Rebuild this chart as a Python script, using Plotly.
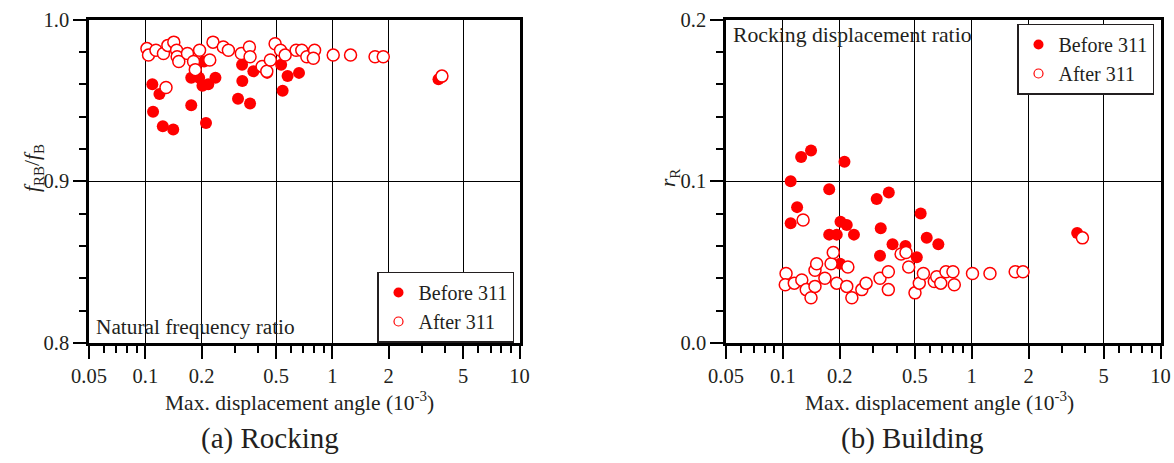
import math
import plotly.graph_objects as go

# ---------------- data ----------------
# (a) Rocking: natural frequency ratio f_RB/f_B
rock_before_x = [0.109, 0.119, 0.110, 0.124, 0.141, 0.176, 0.176, 0.194, 0.202, 0.217,
                 0.237, 0.211, 0.206, 0.329, 0.330, 0.313, 0.363, 0.378, 0.448, 0.532,
                 0.576, 0.542, 0.663, 3.69]
rock_before_y = [0.960, 0.954, 0.943, 0.934, 0.932, 0.964, 0.947, 0.964, 0.959, 0.960,
                 0.964, 0.936, 0.974, 0.972, 0.962, 0.951, 0.948, 0.968, 0.967, 0.972,
                 0.965, 0.956, 0.967, 0.963]
rock_after_x = [0.102, 0.104, 0.114, 0.125, 0.129, 0.132, 0.142, 0.147, 0.148, 0.151,
                0.168, 0.181, 0.185, 0.195, 0.221, 0.230, 0.261, 0.278, 0.326, 0.360,
                0.363, 0.421, 0.446, 0.466, 0.494, 0.528, 0.559, 0.640, 0.686, 0.730,
                0.803, 0.791, 1.01, 1.25, 1.69, 1.87, 3.85]
rock_after_y = [0.982, 0.978, 0.981, 0.979, 0.958, 0.984, 0.986, 0.981, 0.977, 0.974,
                0.979, 0.974, 0.969, 0.981, 0.975, 0.986, 0.983, 0.981, 0.979, 0.983,
                0.977, 0.971, 0.968, 0.975, 0.985, 0.981, 0.978, 0.981, 0.981, 0.977,
                0.981, 0.976, 0.978, 0.978, 0.977, 0.977, 0.965]

# (b) Building: rocking displacement ratio r_R
bld_before_x = [0.110, 0.125, 0.141, 0.212, 0.176, 0.314, 0.364, 0.119, 0.110, 0.202,
                0.218, 0.176, 0.193, 0.238, 0.330, 0.537, 0.578, 0.666, 0.381, 0.446,
                0.327, 0.512, 0.201, 3.62]
bld_before_y = [0.100, 0.115, 0.119, 0.112, 0.095, 0.089, 0.093, 0.084, 0.074, 0.075,
                0.073, 0.067, 0.067, 0.067, 0.071, 0.080, 0.065, 0.061, 0.061, 0.060,
                0.054, 0.053, 0.049, 0.068]
bld_after_x = [0.128, 0.104, 0.103, 0.115, 0.126, 0.133, 0.141, 0.148, 0.148, 0.151,
               0.167, 0.180, 0.185, 0.193, 0.221, 0.218, 0.232, 0.262, 0.276, 0.327,
               0.362, 0.362, 0.423, 0.449, 0.464, 0.501, 0.528, 0.555, 0.634, 0.653,
               0.686, 0.731, 0.796, 0.809, 1.01, 1.25, 1.70, 1.87, 3.86]
bld_after_y = [0.076, 0.043, 0.036, 0.037, 0.039, 0.033, 0.028, 0.035, 0.045, 0.049,
               0.040, 0.049, 0.056, 0.037, 0.047, 0.035, 0.028, 0.033, 0.037, 0.040,
               0.044, 0.033, 0.055, 0.056, 0.047, 0.031, 0.037, 0.043, 0.038, 0.041,
               0.037, 0.044, 0.044, 0.036, 0.043, 0.043, 0.044, 0.044, 0.065]

x_ticks = [0.05, 0.1, 0.2, 0.5, 1, 2, 5, 10]
x_tick_text = ["0.05", "0.1", "0.2", "0.5", "1", "2", "5", "10"]
x_minor = [0.06, 0.07, 0.08, 0.09, 0.3, 0.4, 0.6, 0.7, 0.8, 0.9, 3, 4, 6, 7, 8, 9]
y1_ticks = [0.8, 0.9, 1.0]
y1_tick_text = ["0.8", "0.9", "1.0"]
y1_minor = [0.82, 0.84, 0.86, 0.88, 0.92, 0.94, 0.96, 0.98]
y2_ticks = [0.0, 0.1, 0.2]
y2_tick_text = ["0.0", "0.1", "0.2"]
y2_minor = [0.02, 0.04, 0.06, 0.08, 0.12, 0.14, 0.16, 0.18]

# ---------------- style ----------------
W, H = 1174, 463
FONT = "Liberation Serif"
TXT = "#231f20"
RED = "#ff0000"


def px(x):
    return x / W


def py(y):
    return 1 - y / H


fig = go.Figure()


def add_panel(xa, ya, bx, by, ax, ay, legend):
    fig.add_trace(go.Scatter(x=bx, y=by, mode="markers", xaxis=xa, yaxis=ya,
                             marker=dict(color=RED, size=12, line=dict(width=0)),
                             showlegend=False, hoverinfo="x+y"))
    fig.add_trace(go.Scatter(x=ax, y=ay, mode="markers", xaxis=xa, yaxis=ya,
                             marker=dict(color="white", size=12, line=dict(color=RED, width=1.5)),
                             showlegend=False, hoverinfo="x+y"))
    # legend entries
    fig.add_trace(go.Scatter(x=[None], y=[None], mode="markers", xaxis=xa, yaxis=ya,
                             name="Before 311", legend=legend,
                             marker=dict(color=RED, size=10, line=dict(width=0))))
    fig.add_trace(go.Scatter(x=[None], y=[None], mode="markers", xaxis=xa, yaxis=ya,
                             name="After 311", legend=legend,
                             marker=dict(color="white", size=9, line=dict(color=RED, width=1.2))))


add_panel("x", "y", rock_before_x, rock_before_y, rock_after_x, rock_after_y, "legend")
add_panel("x2", "y2", bld_before_x, bld_before_y, bld_after_x, bld_after_y, "legend2")

tickfont = dict(family=FONT, size=20.5, color=TXT)


def xaxis_cfg(domain, anchor):
    return dict(type="log", range=[math.log10(0.05), math.log10(10)], domain=domain, anchor=anchor,
                automargin=False,
                tickmode="array", tickvals=x_ticks, ticktext=x_tick_text,
                ticks="outside", ticklen=13, tickwidth=1.5, tickcolor="black",
                showgrid=True, gridcolor="black", gridwidth=1.2,
                showline=True, linecolor="black", linewidth=2.5, mirror=True,
                zeroline=False, tickfont=tickfont,
                minor=dict(tickmode="array", tickvals=x_minor, ticks="outside",
                           ticklen=7, tickwidth=1.5, tickcolor="black", showgrid=False))


def yaxis_cfg(rng, tv, tt, minor, domain, anchor):
    return dict(range=rng, domain=domain, anchor=anchor, automargin=False,
                tickmode="array", tickvals=tv, ticktext=tt,
                ticks="outside", ticklen=13, tickwidth=1.5, tickcolor="black",
                showgrid=True, gridcolor="black", gridwidth=1.2,
                showline=True, linecolor="black", linewidth=2.5, mirror=True,
                zeroline=False, tickfont=tickfont,
                minor=dict(tickmode="array", tickvals=minor, ticks="outside",
                           ticklen=7, tickwidth=1.5, tickcolor="black", showgrid=False))


ydom = [py(343), py(19.5)]

legend_common = dict(bordercolor=TXT, borderwidth=1.5, bgcolor="white",
                     font=dict(family=FONT, size=20, color=TXT),
                     xanchor="left", yanchor="top", tracegroupgap=0, itemwidth=30)

fig.update_layout(
    width=W, height=H,
    margin=dict(l=0, r=0, t=0, b=0, autoexpand=False),
    paper_bgcolor="white", plot_bgcolor="white",
    xaxis=xaxis_cfg([px(89), px(519.5)], "y"),
    xaxis2=xaxis_cfg([px(726), px(1160.5)], "y2"),
    yaxis=yaxis_cfg([0.8, 1.0], y1_ticks, y1_tick_text, y1_minor, ydom, "x"),
    yaxis2=yaxis_cfg([0.0, 0.2], y2_ticks, y2_tick_text, y2_minor, ydom, "x2"),
    legend=dict(x=px(377), y=py(271.5), **legend_common),
    legend2=dict(x=px(1017), y=py(23.5), **legend_common),
    font=dict(family=FONT, color=TXT),
)


def ann(text, x, y, size, xanchor="center", angle=0):
    fig.add_annotation(text=text, x=px(x), y=py(y), xref="paper", yref="paper",
                       showarrow=False, xanchor=xanchor, yanchor="middle",
                       textangle=angle, font=dict(family=FONT, size=size, color=TXT))


ann("Natural frequency ratio", 94, 327, 21.3, xanchor="left")
ann("Rocking displacement ratio", 731, 35, 21.7, xanchor="left")
ann("Max. displacement angle (10<sup>-3</sup>)", 299, 401, 21.5)
ann("Max. displacement angle (10<sup>-3</sup>)", 939, 401, 21.5)
ann("(a) Rocking", 269.5, 438, 29)
ann("(b) Building", 912, 438, 29)
ann("<i>f</i><sub>RB</sub>/<i>f</i><sub>B</sub>", 33, 168, 21.5, angle=-90)
ann("<i>r</i><sub>R</sub>", 669, 178, 21.5, angle=-90)

fig.write_html("out.html")
